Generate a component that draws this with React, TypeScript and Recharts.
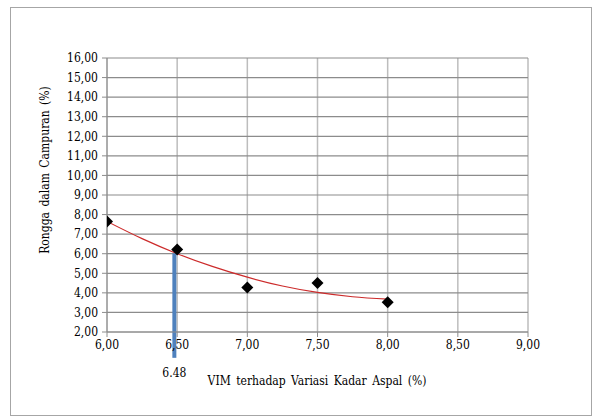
import React from 'react';
import {
  ComposedChart,
  Scatter,
  Line,
  XAxis,
  YAxis,
  CartesianGrid,
  ReferenceLine,
} from 'recharts';

// Measured data points (Kadar Aspal %, VIM %)
const kadarAspal = [6.0, 6.5, 7.0, 7.5, 8.0];
const vimValues = [7.64, 6.22, 4.27, 4.5, 3.52];

// Trend curve
const trendX = [6.0, 6.25, 6.5, 6.75, 7.0, 7.25, 7.5, 7.75, 8.0];
const trendY = [7.65, 6.77, 6.0, 5.35, 4.8, 4.35, 4.02, 3.8, 3.68];

const xTicks = [6.0, 6.5, 7.0, 7.5, 8.0, 8.5, 9.0];
const yTicks = [2, 3, 4, 5, 6, 7, 8, 9, 10, 11, 12, 13, 14, 15, 16];

const optimumX = 6.48;
const optimumTop = 6.02;
const optimumBottom = 0.68;
const optimumLabel = '6.48';

const xTitle = 'VIM terhadap Variasi Kadar Aspal (%)';
const yTitle = 'Rongga dalam Campuran (%)';

const points = kadarAspal.map((x, i) => ({ x, y: vimValues[i] }));
const trend = trendX.map((x, i) => ({ x, y: trendY[i] }));

const FONT = "'DejaVu Serif Condensed', 'DejaVu Serif', serif";
const textStyle = { fontFamily: FONT, fontStretch: 'condensed' as const };
const fmt = (v: number) => v.toFixed(2).replace('.', ',');

const Diamond = (props: any) => {
  const { cx, cy } = props;
  const r = 6;
  return (
    <polygon
      points={`${cx},${cy - r} ${cx + r},${cy} ${cx},${cy + r} ${cx - r},${cy}`}
      fill="#000"
    />
  );
};

const tickStyle = { fill: '#000', fontSize: 12, style: textStyle };

export default function App() {
  return (
    <div style={{ position: 'absolute', left: 0, top: 0, width: 592, height: 417, background: '#fff' }}>
      <div
        style={{
          position: 'absolute',
          left: 10,
          top: 7,
          width: 580,
          height: 407,
          border: '1px solid #a6a6a6',
        }}
      />
      <div style={{ position: 'absolute', left: 0, top: 0 }}>
        <ComposedChart
          width={592}
          height={417}
          margin={{ top: 58, right: 64, bottom: 55, left: 47 }}
          style={textStyle}
        >
          <CartesianGrid horizontal={false} stroke="#bdbdbd" strokeWidth={1.5} />
          <CartesianGrid vertical={false} stroke="#8c8c8c" strokeWidth={1.2} />
          <XAxis
            type="number"
            dataKey="x"
            domain={[6, 9]}
            ticks={xTicks}
            interval={0}
            tickFormatter={fmt}
            height={30}
            stroke="#8c8c8c"
            tickSize={5}
            tickMargin={3}
            tick={tickStyle}
            allowDataOverflow
            label={{
              content: () => (
                <text
                  x={317}
                  y={381}
                  textAnchor="middle"
                  dominantBaseline="central"
                  fill="#000"
                  fontSize={12}
                  style={{ whiteSpace: 'pre', wordSpacing: 2, ...textStyle }}
                >
                  {xTitle}
                </text>
              ),
            }}
          />
          <YAxis
            type="number"
            dataKey="y"
            domain={[2, 16]}
            ticks={yTicks}
            interval={0}
            tickFormatter={fmt}
            width={60}
            stroke="#8c8c8c"
            tickSize={5}
            tickMargin={4}
            tick={tickStyle}
            allowDataOverflow
            label={{
              content: () => (
                <text
                  x={45}
                  y={170}
                  transform="rotate(-90 45 170)"
                  textAnchor="middle"
                  dominantBaseline="central"
                  fill="#000"
                  fontSize={12}
                  style={{ whiteSpace: 'pre', wordSpacing: 2, ...textStyle }}
                >
                  {yTitle}
                </text>
              ),
            }}
          />
          <Line
            data={trend}
            dataKey="y"
            type="monotone"
            stroke="#cc2b2b"
            strokeWidth={1.2}
            dot={false}
            activeDot={false}
            isAnimationActive={false}
          />
          <ReferenceLine
            segment={[
              { x: optimumX, y: optimumTop },
              { x: optimumX, y: optimumBottom },
            ]}
            ifOverflow="visible"
            stroke="#4f81bd"
            strokeWidth={4}
            label={{
              value: optimumLabel,
              position: 'bottom',
              offset: 11,
              fill: '#000',
              fontSize: 12,
              style: textStyle,
            }}
          />
          <Scatter data={points} dataKey="y" shape={<Diamond />} isAnimationActive={false} />
        </ComposedChart>
      </div>
    </div>
  );
}
